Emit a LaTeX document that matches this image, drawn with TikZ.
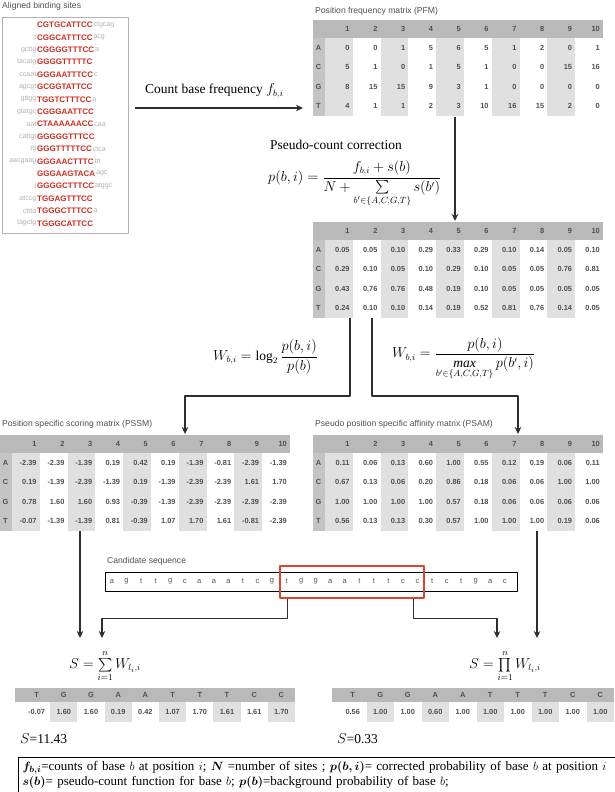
\documentclass[tikz,border=0pt]{standalone}
\usepackage{amsfonts,amsmath,amssymb}
\usepackage{fontspec}
\setmainfont{Liberation Serif}
\setsansfont{Liberation Sans}
\usetikzlibrary{arrows.meta,positioning}
\definecolor{seqred}{HTML}{D02A1E}
\definecolor{hitred}{HTML}{D9452F}
\definecolor{headgray}{HTML}{B9B9B9}
\definecolor{basegray}{HTML}{C4C4C4}
\definecolor{stripegray}{HTML}{E0E0E0}
\definecolor{numgray}{HTML}{505050}
\definecolor{flankgray}{HTML}{B0B0B0}
\definecolor{linegray}{HTML}{2E2E2E}
\tikzset{
  every picture/.style={line join=round, >={Stealth[length=7pt,width=6.5pt]}},
  caption/.style={font=\sffamily\fontsize{8.6}{10}\selectfont, text=numgray, anchor=west, inner sep=0pt},
  num/.style={font=\sffamily\bfseries\fontsize{7.4}{8}\selectfont, text=numgray, inner sep=0pt},
  site/.style={font=\sffamily\bfseries\fontsize{8}{9}\selectfont, text=seqred, inner sep=0pt, anchor=west},
  flank/.style={font=\sffamily\fontsize{7}{8}\selectfont, text=flankgray, inner sep=0pt},
  seqchar/.style={font=\sffamily\fontsize{7.5}{8}\selectfont, text=numgray, inner sep=0pt},
  flow/.style={line width=1.3pt, draw=linegray},
  formula/.style={font=\fontsize{13.5}{15}\selectfont, inner sep=0pt},
}
% grid of one matrix: #1 name, #2 left, #3 top
\newcommand{\mathead}[3]{%
  \fill[headgray] (#2,#3) rectangle (#2+290,#3+18);
  \fill[basegray] (#2,#3+18) rectangle (#2+12,#3+96);
  \foreach \col in {1,3,5,7,9}
    \fill[stripegray] (#2+12+27.8*\col-27.8,#3+18) rectangle (#2+12+27.8*\col,#3+96);
  \foreach \col in {1,...,10}
    \node[num,anchor=east] (#1-h\col) at (#2+9+27.8*\col,#3+9) {\col};
}
% one row of a matrix: #1 name, #2 left, #3 top, #4 row, #5 base, #6 values
\newcommand{\matrow}[6]{%
  \node[num] (#1-#5) at (#2+5.5,#3+8.25+19.5*#4) {#5};
  \foreach \v [count=\col] in {#6}
    \node[num,anchor=east] (#1-#5\col) at (#2+9+27.8*\col,#3+8.25+19.5*#4) {\v};
}
% weights of the hit: #1 name, #2 left, #3 lead, #4 col width, #5 values
\newcommand{\hitrow}[5]{%
  \fill[headgray] (#2,688) rectangle (#2+#3+10*#4,702);
  \foreach \col in {2,4,...,10}
    \fill[stripegray] (#2+#3+#4*\col-#4,702) rectangle (#2+#3+#4*\col,722);
  \foreach \b [count=\col] in {T,G,G,A,A,T,T,T,C,C}
    \node[num] (#1-h\col) at (#2+#3+#4*\col-#4/2,695) {\b};
  \foreach \v [count=\col] in {#5}
    \node[num] (#1-v\col) at (#2+#3+#4*\col-#4/2,712) {\v};
}

\begin{document}
\begin{tikzpicture}[x=1pt,y=-1pt]
\useasboundingbox (0,0) rectangle (614,792);

% aligned binding sites
\node[caption] (sitescap) at (2,6) {Aligned binding sites};
\node[draw=gray!60, line width=0.6pt, minimum width=126pt, minimum height=216pt, anchor=north west, inner sep=0pt] (sites) at (2,17) {};
\foreach \l/\s/\r [count=\k] in {
    {}/CGTGCATTCC/ctgcag, t/CGGCATTTCC/acg, gcttg/CGGGGTTTCC/a,
    tacatg/GGGGTTTTTC/{}, ccaat/GGGAATTTCC/c, agcgt/GCGGTATTCC/{},
    gttgg/TGGTCTTTCC/a, gtatgc/CGGGAATTCC/{}, aat/CTAAAAAACC/caa,
    cattgt/GGGGGTTTCC/{}, tg/GGGTTTTTCC/ctca, aacgaag/GGGAACTTTC/ttt,
    {}/GGGAAGTACA/agc, t/GGGGCTTTCC/atggc, atccg/TGGAGTTTCC/{},
    cttta/TGGGCTTTCC/a, tagctg/TGGGCATTCC/{}}{
  \node[site] (site\k) at (37,{25+12.4*(\k-1)}) {\s};
  \node[flank,left=0.6pt of site\k] (lf\k) {\l};
  \node[flank,right=0.6pt of site\k] (rf\k) {\r};
}

% counting
\coordinate (cntstart) at (135,108);
\coordinate (cntend) at (303,108);
\draw[flow,->] (cntstart) -- (cntend);
\node[formula,anchor=south west] (cnttxt) at (145,98) {Count base frequency $f_{b,i}$};

% PFM
\node[caption] (pfmcap) at (315,11) {Position frequency matrix (PFM)};
\mathead{pfm}{313}{20}
\matrow{pfm}{313}{20}{1}{A}{0,0,1,5,6,5,1,2,0,1}
\matrow{pfm}{313}{20}{2}{C}{5,1,0,1,5,1,0,0,15,16}
\matrow{pfm}{313}{20}{3}{G}{8,15,15,9,3,1,0,0,0,0}
\matrow{pfm}{313}{20}{4}{T}{4,1,1,2,3,10,16,15,2,0}

% pseudo-count correction
\coordinate (pfmout) at (455,117);
\coordinate (probin) at (455,221);
\draw[flow,->] (pfmout) -- (probin);
\node[formula,anchor=west] (pctxt) at (270,145) {Pseudo-count correction};
\node[formula,anchor=west] (pcform) at (268,184) {$p(b,i)=\dfrac{f_{b,i}+s(b)}{N+\sum\limits_{b'\in\{A,C,G,T\}}s(b')}$};

% corrected probabilities
\mathead{prob}{313}{222}
\matrow{prob}{313}{222}{1}{A}{0.05,0.05,0.10,0.29,0.33,0.29,0.10,0.14,0.05,0.10}
\matrow{prob}{313}{222}{2}{C}{0.29,0.10,0.05,0.10,0.29,0.10,0.05,0.05,0.76,0.81}
\matrow{prob}{313}{222}{3}{G}{0.43,0.76,0.76,0.48,0.19,0.10,0.05,0.05,0.05,0.05}
\matrow{prob}{313}{222}{4}{T}{0.24,0.10,0.10,0.14,0.19,0.52,0.81,0.76,0.14,0.05}

% two kinds of weights
\coordinate (probout1) at (350,318);
\coordinate (probout2) at (372,318);
\coordinate (pssmin) at (185,434);
\coordinate (psamin) at (518,434);
\draw[flow,->] (probout1) -- ++(0,78) -| (pssmin);
\draw[flow,->] (probout2) -- ++(0,78) -| (psamin);
\node[formula,anchor=west] (wlog) at (213,357) {$W_{b,i}=\log_2\dfrac{p(b,i)}{p(b)}$};
\node[formula,anchor=west] (wmax) at (392,359) {$W_{b,i}=\dfrac{p(b,i)}{\mathop{\mathit{max}}\limits_{b'\in\{A,C,G,T\}}p(b',i)}$};

% PSSM
\node[caption] (pssmcap) at (2,424) {Position specific scoring matrix (PSSM)};
\mathead{pssm}{0}{435}
\matrow{pssm}{0}{435}{1}{A}{-2.39,-2.39,-1.39,0.19,0.42,0.19,-1.39,-0.81,-2.39,-1.39}
\matrow{pssm}{0}{435}{2}{C}{0.19,-1.39,-2.39,-1.39,0.19,-1.39,-2.39,-2.39,1.61,1.70}
\matrow{pssm}{0}{435}{3}{G}{0.78,1.60,1.60,0.93,-0.39,-1.39,-2.39,-2.39,-2.39,-2.39}
\matrow{pssm}{0}{435}{4}{T}{-0.07,-1.39,-1.39,0.81,-0.39,1.07,1.70,1.61,-0.81,-2.39}

% PSAM
\node[caption] (psamcap) at (315,424) {Pseudo position specific affinity matrix (PSAM)};
\mathead{psam}{313}{435}
\matrow{psam}{313}{435}{1}{A}{0.11,0.06,0.13,0.60,1.00,0.55,0.12,0.19,0.06,0.11}
\matrow{psam}{313}{435}{2}{C}{0.67,0.13,0.06,0.20,0.86,0.18,0.06,0.06,1.00,1.00}
\matrow{psam}{313}{435}{3}{G}{1.00,1.00,1.00,1.00,0.57,0.18,0.06,0.06,0.06,0.06}
\matrow{psam}{313}{435}{4}{T}{0.56,0.13,0.13,0.30,0.57,1.00,1.00,1.00,0.19,0.06}

% candidate sequence
\node[caption] (candcap) at (107,561) {Candidate sequence};
\node[draw, line width=1.1pt, minimum width=412pt, minimum height=19pt, inner sep=0pt, anchor=north west] (cand) at (105,572) {};
\foreach \b [count=\k] in {a,g,t,t,g,c,a,a,a,t,c,g,t,g,g,a,a,t,t,t,c,c,t,c,t,g,a,c}
  \node[seqchar] (cand\k) at ({112+14.55*(\k-1)},581.5) {\b};
\node[draw=hitred, line width=1.2pt, minimum width=144pt, minimum height=32pt, inner sep=0pt] (hit) at (352,582) {};

% scoring
\coordinate (pssmout) at (80,531);
\coordinate (psamout) at (537,531);
\coordinate (sumin1) at (80,638);
\coordinate (sumin2) at (102,638);
\coordinate (prodin1) at (497,638);
\coordinate (prodin2) at (537,638);
\draw[flow,->] (pssmout) -- (sumin1);
\draw[flow,->] (psamout) -- (prodin2);
\draw[flow,->] ([xshift=8pt]hit.south west) -- ++(0,20) -| (sumin2);
\draw[flow,->] ([xshift=-11pt]hit.south east) -- ++(0,20) -| (prodin1);
\node[formula] (sumS) at (105,666) {$S=\sum\limits_{i=1}^{n}W_{l_i,i}$};
\node[formula] (prodS) at (505,666) {$S=\prod\limits_{i=1}^{n}W_{l_i,i}$};

\hitrow{pssmhit}{15}{8}{27.2}{-0.07,1.60,1.60,0.19,0.42,1.07,1.70,1.61,1.61,1.70}
\hitrow{psamhit}{332}{7}{27.5}{0.56,1.00,1.00,0.60,1.00,1.00,1.00,1.00,1.00,1.00}
\node[formula,anchor=west] (pssmscore) at (20,739) {$S$=11.43};
\node[formula,anchor=west] (psamscore) at (337,739) {$S$=0.33};

% legend
\node[draw, line width=1pt, anchor=north west, inner xsep=4pt, inner ysep=4pt, text width=640pt, align=left, font=\fontsize{13}{15}\selectfont] (legend) at (18,757) {$\boldsymbol{f_{b,i}}$=counts of base $b$ at position $i$; $\boldsymbol{N}$ =number of sites ; $\boldsymbol{p(b,i)}$= corrected probability of base $b$ at position $i$\\ $\boldsymbol{s(b)}$= pseudo-count function for base $b$; $\boldsymbol{p(b)}$=background probability of base $b$;};
\end{tikzpicture}
\end{document}
